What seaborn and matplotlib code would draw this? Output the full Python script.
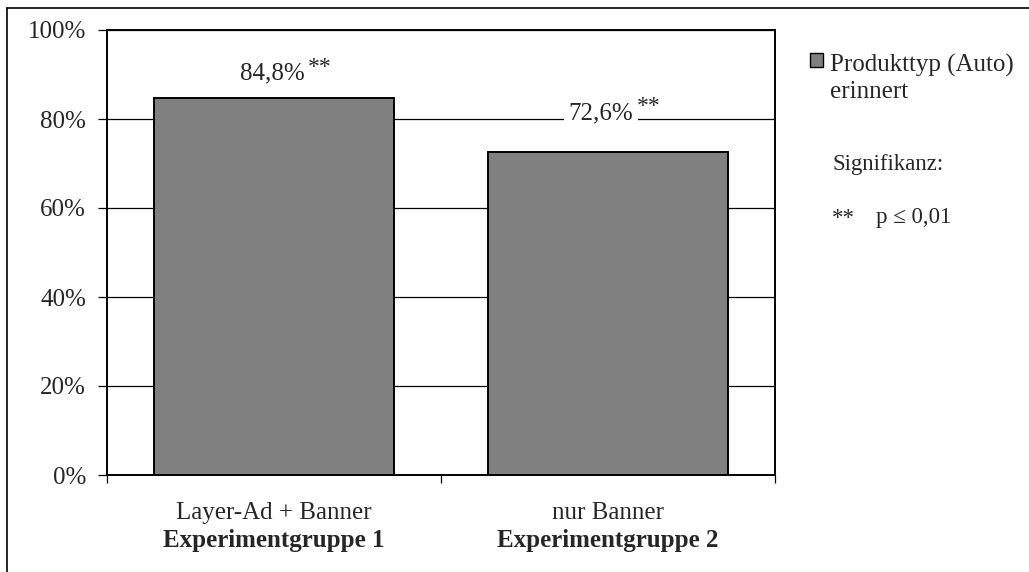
import matplotlib
matplotlib.use("Agg")
import matplotlib.pyplot as plt
from matplotlib.lines import Line2D
from matplotlib.patches import Rectangle
import seaborn as sns
import pandas as pd

categories = ["Layer-Ad + Banner", "nur Banner"]
groups = ["Experimentgruppe 1", "Experimentgruppe 2"]
values = [84.8, 72.6]
value_labels = ["84,8%", "72,6%"]
sig_labels = ["**", "**"]
yticks = [0, 20, 40, 60, 80, 100]
ytick_labels = ["0%", "20%", "40%", "60%", "80%", "100%"]
legend_lines = ["Produkttyp (Auto)", "erinnert"]
sig_title = "Signifikanz:"
sig_key = "**"
sig_text = "p ≤ 0,01"

sns.set_theme(style="white")
plt.rcParams["font.family"] = ["Liberation Serif", "DejaVu Serif"]

W, H = 1029, 572
df = pd.DataFrame({"cat": categories, "val": values})

fig = plt.figure(figsize=(W / 100, H / 100), dpi=100)
ax = fig.add_axes([107 / W, 1 - 475 / H, (775 - 107) / W, (475 - 30) / H])

sns.barplot(data=df, x="cat", y="val", color="#808080", saturation=1,
            edgecolor="black", linewidth=1.4, width=0.716, ax=ax, zorder=3)

FS = 18
ax.set_ylim(0, 100)
ax.set_xlim(-0.5, 1.5)
ax.set_yticks(yticks)
ax.set_yticklabels(ytick_labels, fontsize=FS)
for y in yticks[1:]:
    ax.axhline(y, color="black", linewidth=0.9, zorder=1)
ax.tick_params(axis="y", direction="out", length=6.5, width=0.9, color="black", left=True, pad=8.5)
ax.set_xticks([0, 1])
ax.set_xticklabels(["", ""])
ax.tick_params(axis="x", which="major", length=0)
ax.set_xticks([-0.5, 0.5, 1.5], minor=True)
ax.tick_params(axis="x", which="minor", direction="out", length=6, width=0.9, color="black", bottom=True)
ax.set_xlabel("")
ax.set_ylabel("")
for s in ax.spines.values():
    s.set_color("black")
    s.set_linewidth(1.4)
    s.set_visible(True)
ax.set_facecolor("white")

# category labels
for i, (c, g) in enumerate(zip(categories, groups)):
    ax.text(i, -0.0854, c, transform=ax.get_xaxis_transform(), ha="center", va="center", fontsize=FS)
    ax.text(i, -0.148, g, transform=ax.get_xaxis_transform(), ha="center", va="center",
            fontsize=FS, fontweight="bold")

# value labels (offsets in pixels -> points)
px = 0.72
lift = [18.6, 32]
xshift = [-2, -7]
raise_sig = [11, 13]
for i, (v, lab, sig) in enumerate(zip(values, value_labels, sig_labels)):
    bb = dict(boxstyle="square,pad=0.2", fc="white", ec="none") if i == 1 else None
    t = ax.annotate(lab, xy=(i, v), xytext=(xshift[i] * px, lift[i] * px), textcoords="offset points",
                    ha="center", va="baseline", fontsize=FS, zorder=5, bbox=bb)
    ax.annotate(sig, xy=(1, 0), xycoords=t, xytext=(3 * px, raise_sig[i] * px), textcoords="offset points",
                ha="left", va="baseline", fontsize=17, zorder=5)

# legend
fig.add_artist(Rectangle((810 / W, 1 - 67 / H), 13 / W, 14 / H, transform=fig.transFigure,
                         facecolor="#808080", edgecolor="black", linewidth=1.0))
fig.text(830 / W, 1 - 72 / H, legend_lines[0], ha="left", va="baseline", fontsize=FS)
fig.text(830 / W, 1 - 98 / H, legend_lines[1], ha="left", va="baseline", fontsize=FS)
fig.text(832 / W, 1 - 170 / H, sig_title, ha="left", va="baseline", fontsize=16.5)
fig.text(832 / W, 1 - 224 / H, sig_key, ha="left", va="baseline", fontsize=16.5)
fig.text(876 / W, 1 - 223 / H, sig_text, ha="left", va="baseline", fontsize=16.5)

# outer frame
fig.add_artist(Line2D([7 / W, 7 / W], [0, 1 - 8 / H], transform=fig.transFigure, color="black", linewidth=1.2))
fig.add_artist(Line2D([7 / W, 1], [1 - 8 / H, 1 - 8 / H], transform=fig.transFigure, color="black", linewidth=1.2))

fig.savefig("out.png", dpi=100, facecolor="white")
